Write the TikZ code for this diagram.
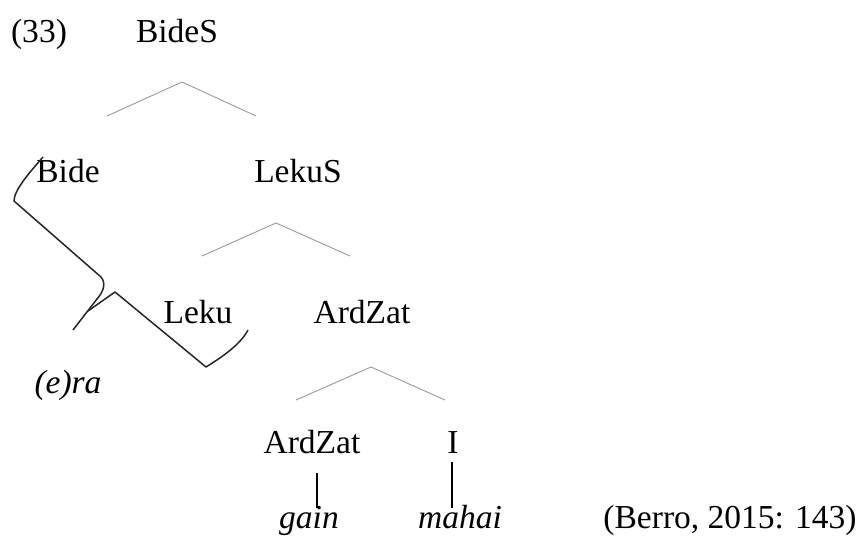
\documentclass[tikz,border=0pt]{standalone}
\usepackage{fontspec}
\setmainfont{Liberation Serif}
\begin{document}
\begin{tikzpicture}[x=1pt,y=-1pt,
  lbl/.style={font=\fontsize{33.5}{40}\selectfont, inner sep=0pt, anchor=base},
  tri/.style={draw=gray!80, line width=0.9pt},
  stem/.style={draw=black, line width=1.3pt},
  move/.style={draw=black!85, line width=1.5pt, line join=round}]
\useasboundingbox (0,0) rectangle (864,537);
% labels
\node[lbl] (ex) at (39,43) {(33)};
\node[lbl] (bides) at (177,43) {BideS};
\node[lbl] (bide) at (68,183) {Bide};
\node[lbl] (lekus) at (298,183) {LekuS};
\node[lbl] (leku) at (198,323) {Leku};
\node[lbl] (ardzatp) at (362,323) {ArdZat};
\node[lbl] (era) at (68,393) {\itshape(e)ra};
\node[lbl] (ardzat) at (312,453) {ArdZat};
\node[lbl] (i) at (453,453) {I};
\node[lbl] (gain) at (309,528) {\itshape gain};
\node[lbl] (mahai) at (460,528) {\itshape mahai};
\node[lbl] (src) at (730,528) {(Berro, 2015: 143)};
% triangle coordinates
\coordinate (a1) at (107,116); \coordinate (a2) at (182,82); \coordinate (a3) at (256,116);
\coordinate (b1) at (202,256); \coordinate (b2) at (276,223); \coordinate (b3) at (350,256);
\coordinate (c1) at (296,400); \coordinate (c2) at (371,367); \coordinate (c3) at (445,400);
\draw[tri] (a1) -- (a2) -- (a3);
\draw[tri] (b1) -- (b2) -- (b3);
\draw[tri] (c1) -- (c2) -- (c3);
% stems
\coordinate (s1) at (317,473); \coordinate (s2) at (317,508);
\coordinate (t1) at (452,462); \coordinate (t2) at (452,508);
\draw[stem] (s1) -- (s2);
\draw[stem] (t1) -- (t2);
% movement lines
\coordinate (m1) at (43,157); \coordinate (m2) at (14,201);
\coordinate (m3) at (101,277); \coordinate (m4) at (97,299);
\coordinate (m5) at (73,330);
\coordinate (n1) at (88,311); \coordinate (n2) at (115,292);
\coordinate (n3) at (206,367); \coordinate (n4) at (248,330);
\draw[move] (m1) .. controls (30,172) and (14,190) .. (m2) -- (m3)
  .. controls (106,283) and (104,291) .. (m4) -- (m5);
\draw[move] (n1) -- (n2) -- (n3) .. controls (222,357) and (240,345) .. (n4);
\end{tikzpicture}
\end{document}
